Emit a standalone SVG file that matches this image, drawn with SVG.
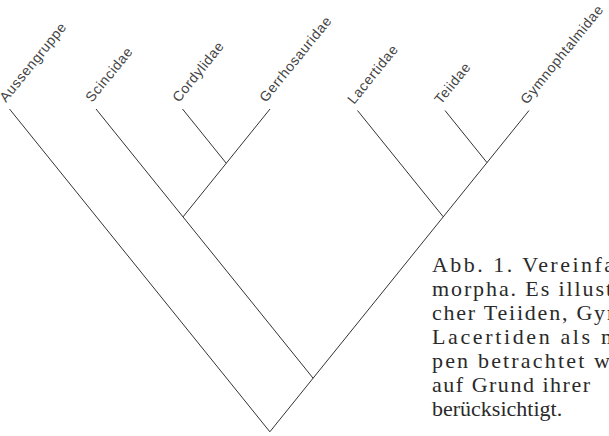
<svg xmlns="http://www.w3.org/2000/svg" width="609" height="436" viewBox="0 0 609 436">
<style>
.lbl{font-family:"Liberation Sans",Arial,sans-serif;font-size:14px;letter-spacing:0.6px;fill:#444}
.cap{font-family:"Liberation Serif","Times New Roman",serif;font-size:22px;fill:#2a2a2a}
.br{stroke:#333;stroke-width:1;fill:none}
</style>
<rect width="609" height="436" fill="#fff"/>
<g id="connectors">
<polyline class="br" points="9.5,109 269.85,431.8 529,110.5"/>
<line class="br" x1="96" y1="109" x2="313.1" y2="378.2"/>
<line class="br" x1="182.5" y1="109" x2="226.25" y2="163.25"/>
<line class="br" x1="270" y1="109" x2="183" y2="216.9"/>
<line class="br" x1="357.5" y1="110.5" x2="443.25" y2="216.8"/>
<line class="br" x1="445" y1="110.5" x2="487" y2="162.6"/>
</g>
<g id="Aussengruppe"><text class="lbl" transform="translate(6,103) rotate(-51)">Aussengruppe</text></g>
<g id="Scincidae"><text class="lbl" transform="translate(92,103) rotate(-51)">Scincidae</text></g>
<g id="Cordylidae"><text class="lbl" transform="translate(179,103) rotate(-51)">Cordylidae</text></g>
<g id="Gerrhosauridae"><text class="lbl" transform="translate(266,103) rotate(-51)">Gerrhosauridae</text></g>
<g id="Lacertidae"><text class="lbl" transform="translate(354,105) rotate(-51)">Lacertidae</text></g>
<g id="Teiidae"><text class="lbl" transform="translate(441,105) rotate(-51)">Teiidae</text></g>
<g id="Gymnophtalmidae"><text class="lbl" transform="translate(527,105) rotate(-51)">Gymnophtalmidae</text></g>
<g id="caption" class="cap">
<text x="432" y="272" textLength="182" lengthAdjust="spacing">Abb. 1. Vereinfa</text>
<text x="432" y="296" textLength="180" lengthAdjust="spacing">morpha. Es illust</text>
<text x="432" y="320" textLength="192" lengthAdjust="spacing">cher Teiiden, Gym</text>
<text x="432" y="344" textLength="186" lengthAdjust="spacing">Lacertiden als m</text>
<text x="432" y="368" textLength="178" lengthAdjust="spacing">pen betrachtet w</text>
<text x="432" y="392" textLength="158" lengthAdjust="spacing">auf Grund ihrer</text>
<text x="432" y="416">berücksichtigt.</text>
</g>
</svg>
